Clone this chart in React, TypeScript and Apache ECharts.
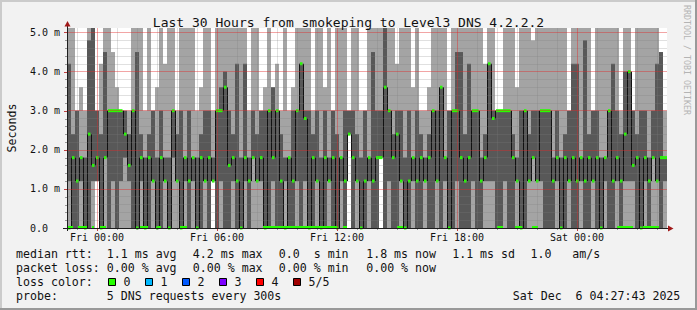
import { useEffect, useRef } from "react";
import * as echarts from "echarts";

const FONT = '"DejaVu Sans Mono", "Liberation Mono", monospace';

// x axis: hours since Thu 22:30, 30 hour window, 12 minute columns
const SPAN_HOURS = 30;
const STEP_HOURS = 0.2;
const Y_MAX_MS = 5.115;

const xTickHours = [1.5, 7.5, 13.5, 19.5, 25.5];
const xTickLabels = ["Fri 00:00", "Fri 06:00", "Fri 12:00", "Fri 18:00", "Sat 00:00"];
const yTickValues = [0, 1, 2, 3, 4, 5];
const yTickLabels = ["0.0", "1.0 m", "2.0 m", "3.0 m", "4.0 m", "5.0 m"];

// sorted pings per column, in ms (5.2 = above the top of the chart)
const minRtt = [
  0, 0, 0, 0, 0, 0, 0, 1.2, 0, 0,
  0, 0, 0, 0, 0, 0, 0, 0, 0, 0,
  0, 0, 0, 0, 0, 0, 0, 0, 0, 0,
  0, 0, 0, 0, 0, 0, 1.2, 0, 0, 0,
  0, 0, 0, 0, 0, 0, 0, 0, 0, 0,
  0, 0, 0, 0, 0, 0, 0, 0, 0, 0,
  0, 0, 0, 0, 0, 0, 0, 0, 0, 0,
  2.4, 0, 0, 0, 0, 0, 0, 0, 1.8, 0,
  0, 0, 0, 0, 0, 0, 0, 0, 0, 0,
  0, 0, 0, 0, 0, 0, 0, 0, 0, 0,
  0, 0, 0, 0, 0, 0, 0, 0, 0, 0,
  0, 0, 0, 0, 0, 0, 0, 0, 0, 0,
  0, 0, 0, 0, 0, 0, 0, 0, 0, 0,
  0, 0, 0, 0, 0, 0, 0, 0, 0, 0,
  0, 0, 0, 0, 0, 0, 0, 0, 0, 0,
];
const lowRtt = [
  1.2, 0, 0, 1.2, 0, 0, 1.2, 1.2, 0, 1.8,
  0, 1.2, 0, 1.2, 1.8, 1.2, 0, 0, 1.2, 0,
  0, 1.2, 0, 0, 1.2, 0, 1.8, 1.2, 0, 1.2,
  0, 1.2, 0, 0, 1.2, 0, 1.2, 0, 1.2, 0,
  0, 1.2, 0, 0, 1.2, 0, 1.8, 1.2, 1.2, 0,
  0, 1.2, 0, 0, 1.2, 0, 0, 1.2, 0, 1.2,
  0, 0, 1.2, 0, 0, 1.2, 0, 0, 1.2, 0,
  2.4, 0, 1.2, 0, 0, 1.2, 0, 0, 1.8, 0,
  1.2, 0, 0, 1.2, 0, 0, 1.2, 0, 0, 1.2,
  0, 0, 1.2, 0, 1.2, 0, 0, 1.2, 0, 0,
  0, 1.2, 0, 0, 1.2, 1.2, 1.2, 0, 0, 1.2,
  0, 0, 1.2, 0, 0, 1.2, 1.8, 1.2, 1.2, 0,
  0, 0, 1.2, 0, 0, 1.2, 0, 0, 1.2, 0,
  0, 1.2, 0, 0, 1.2, 0, 0, 1.2, 0, 1.2,
  1.2, 1.2, 0, 0, 1.2, 0, 1.8, 1.2, 0, 1.2,
];
const medianRtt = [
  0, 1.8, 1.2, 1.8, 0, 2.4, 1.6, 1.8, 0, 1.8,
  3.0, 3.0, 3.0, 3.0, 2.4, 1.6, 3.0, 0, 1.8, 0,
  1.8, 1.2, 0, 1.8, 1.2, 0, 3.0, 1.2, 0, 1.8,
  1.2, 1.8, 0, 1.8, 1.2, 1.8, 1.2, 3.0, 3.0, 3.6,
  1.6, 1.8, 1.2, 0, 1.8, 1.2, 1.8, 1.2, 1.8, 0,
  3.0, 1.8, 3.0, 1.2, 0, 1.8, 1.2, 3.0, 4.2, 2.8,
  0, 1.8, 1.2, 0, 1.8, 1.2, 1.8, 0, 1.8, 1.2,
  2.4, 1.8, 1.2, 0, 1.2, 1.8, 1.2, 1.8, 1.8, 3.6,
  3.0, 1.8, 2.4, 1.2, 0, 1.2, 1.8, 1.2, 1.8, 1.2,
  1.8, 3.0, 1.2, 3.6, 1.8, 0, 3.0, 3.0, 1.8, 1.2,
  1.8, 3.0, 3.0, 1.2, 1.8, 4.2, 2.8, 3.0, 3.0, 3.0,
  3.0, 1.8, 1.2, 0, 3.0, 1.2, 1.8, 1.2, 3.0, 3.0,
  3.0, 1.2, 1.8, 0, 1.8, 1.2, 1.8, 1.2, 1.8, 1.2,
  1.8, 1.2, 1.8, 0, 1.8, 3.0, 1.2, 1.8, 1.2, 2.4,
  4.0, 1.6, 1.8, 0, 1.8, 1.2, 1.8, 1.2, 1.8, 1.8,
];
const highRtt = [
  4.2, 2.4, 3.0, 1.8, 1.8, 4.8, 5.2, 3.0, 2.4, 4.5,
  3.0, 3.0, 3.0, 3.0, 3.0, 2.4, 3.0, 4.5, 2.4, 1.8,
  2.4, 3.0, 1.8, 3.0, 1.8, 1.8, 3.0, 2.4, 3.0, 1.8,
  3.0, 1.8, 1.8, 2.4, 3.0, 3.0, 1.8, 3.0, 3.6, 4.0,
  3.0, 2.4, 4.2, 1.8, 4.2, 1.8, 3.0, 2.4, 3.0, 3.0,
  3.0, 3.6, 3.0, 2.4, 1.8, 1.8, 3.0, 3.0, 4.2, 3.0,
  3.0, 2.4, 3.0, 1.8, 3.0, 1.8, 3.0, 2.4, 1.8, 3.0,
  3.0, 3.0, 2.4, 1.8, 3.0, 1.8, 4.5, 3.0, 3.0, 5.2,
  3.0, 2.4, 3.0, 3.0, 1.8, 3.0, 1.8, 3.0, 2.4, 1.8,
  2.4, 3.0, 3.0, 3.6, 1.8, 3.0, 3.0, 4.5, 4.5, 2.4,
  4.2, 3.0, 3.0, 1.8, 2.4, 4.2, 3.0, 3.0, 3.0, 3.0,
  3.0, 2.4, 1.8, 3.0, 3.0, 2.4, 3.0, 3.0, 3.0, 3.0,
  3.0, 1.8, 3.0, 1.8, 2.4, 3.0, 4.2, 4.2, 1.8, 4.8,
  2.4, 3.0, 3.0, 1.8, 1.8, 3.0, 4.2, 3.0, 2.4, 4.0,
  4.0, 3.0, 2.4, 3.0, 3.0, 1.8, 3.0, 4.2, 4.5, 1.8,
];
const maxRtt = [
  5.2, 5.2, 3.0, 3.6, 3.0, 5.2, 5.2, 3.0, 4.2, 5.2,
  5.2, 4.5, 3.6, 3.0, 3.0, 3.0, 5.2, 5.2, 5.2, 3.0,
  5.2, 3.0, 3.6, 5.2, 4.2, 5.2, 5.2, 3.0, 5.2, 5.2,
  5.2, 5.2, 3.0, 3.6, 5.2, 5.2, 3.0, 5.2, 5.2, 5.2,
  5.2, 5.2, 5.2, 5.2, 5.2, 3.0, 5.2, 5.2, 3.0, 3.6,
  5.2, 3.6, 4.2, 3.0, 5.2, 3.0, 3.6, 5.2, 5.2, 5.2,
  5.2, 3.0, 5.2, 5.2, 3.6, 5.2, 3.0, 5.2, 5.2, 5.2,
  3.0, 5.2, 5.2, 3.0, 3.0, 5.2, 5.2, 5.2, 5.2, 5.2,
  5.2, 5.2, 4.2, 5.2, 5.2, 5.2, 3.6, 5.2, 3.0, 3.0,
  3.6, 5.2, 5.2, 5.2, 5.2, 3.0, 5.2, 5.2, 5.2, 5.2,
  5.2, 5.2, 5.2, 5.2, 4.2, 5.2, 5.2, 3.0, 3.0, 5.2,
  5.2, 5.2, 3.6, 5.2, 5.2, 5.2, 4.8, 5.2, 5.2, 5.2,
  5.2, 5.2, 5.2, 5.2, 5.2, 3.0, 5.2, 5.2, 5.2, 5.2,
  5.2, 3.0, 5.2, 5.2, 5.2, 5.2, 5.2, 5.2, 3.0, 5.2,
  5.2, 3.0, 5.2, 5.2, 5.2, 5.2, 5.2, 5.2, 4.5, 3.0,
];
// stretches (hours) where the median keeps falling back to 0 ms
const zeroMedianSpans = [
  [0.0, 0.3], [0.55, 1.0], [1.25, 1.35], [1.65, 1.95], [3.65, 4.05], [4.5, 4.7],
  [5.65, 6.0], [9.8, 13.5], [13.8, 14.0], [16.5, 16.8], [21.5, 21.8], [22.4, 22.75],
  [23.25, 23.55], [27.5, 28.3], [28.8, 29.6],
];

const lossLabels = ["0", "1", "2", "3", "4", "5/5"];
const lossColors = ["#26ff00", "#00b8ff", "#0059ff", "#7e00ff", "#ff0000", "#a00000"];

const LIGHT = "#a4a4a4";
const DARK = "#585858";
const GREEN = "#26ff00";
// dotted grid lines, rendered as their average tint
const MINOR_GRID = "rgba(125,125,125,0.24)";
const MAJOR_GRID = "rgba(225,40,40,0.42)";

function txt(text: string, x: number, y: number, extra: any = {}) {
  return {
    type: "text",
    x,
    y,
    z: 60,
    style: {
      text,
      fill: "#111",
      font: `11.6px ${FONT}`,
      align: "left",
      verticalAlign: "middle",
      textAlign: "left",
      textVerticalAlign: "middle",
      ...extra,
    },
  };
}

export default function App() {
  const ref = useRef<HTMLDivElement>(null);
  useEffect(() => {
    const chart = echarts.init(ref.current!, null, { renderer: "svg" });

    const xMinorHours: number[] = [];
    for (let h = 0.5; h < SPAN_HOURS; h += 1) {
      if (!xTickHours.some((t) => Math.abs(t - h) < 1e-6)) xMinorHours.push(h);
    }
    const yMajorValues = yTickValues.filter((v) => v > 0);
    const yMinorValues: number[] = [];
    for (let k = 1; k <= 25; k++) if (k % 5 !== 0) yMinorValues.push(k / 5);

    const smokeData = minRtt.map((_, i) => [
      i * STEP_HOURS,
      (i + 1) * STEP_HOURS,
      minRtt[i],
      lowRtt[i],
      medianRtt[i],
      highRtt[i],
      maxRtt[i],
    ]);
    const medianData = medianRtt.map((m, i) => [
      i * STEP_HOURS,
      (i + 1) * STEP_HOURS,
      m,
      i > 0 ? medianRtt[i - 1] : m,
      i < medianRtt.length - 1 ? medianRtt[i + 1] : m,
    ]);

    const clampY = (api: any, t: number, v: number) => api.coord([t, Math.min(v, Y_MAX_MS)])[1];

    const smokeRender = (_p: any, api: any) => {
      const t0 = api.value(0);
      const t1 = api.value(1);
      const x0 = api.coord([t0, 0])[0];
      const x1 = api.coord([t1, 0])[0];
      const yMin = clampY(api, t0, api.value(2));
      const yLow = clampY(api, t0, api.value(3));
      const yHigh = clampY(api, t0, api.value(5));
      const yMax = clampY(api, t0, api.value(6));
      return {
        type: "group",
        children: [
          { type: "rect", shape: { x: x0, y: yMax, width: x1 - x0, height: yMin - yMax }, style: { fill: LIGHT } },
          { type: "rect", shape: { x: x0, y: yHigh, width: x1 - x0, height: yLow - yHigh }, style: { fill: DARK } },
        ],
      };
    };

    const medianRender = (_p: any, api: any) => {
      const t0 = api.value(0);
      const t1 = api.value(1);
      const x0 = api.coord([t0, 0])[0];
      const x1 = api.coord([t1, 0])[0];
      const m = api.value(2);
      const pm = api.value(3);
      const nm = api.value(4);
      const ym = clampY(api, t0, m);
      const yp = clampY(api, t0, pm);
      const children: any[] = [];
      if (m !== pm) {
        children.push({
          type: "line",
          shape: { x1: x0 + 0.5, y1: yp, x2: x0 + 0.5, y2: ym },
          style: { stroke: "#111111", lineWidth: 1 },
        });
      }
      const gx0 = m === pm ? x0 : x0 + 1;
      const gx1 = m === nm ? x1 : x1 - 0.5;
      children.push({
        type: "rect",
        shape: { x: gx0, y: ym - 1.5, width: gx1 - gx0, height: 3 },
        style: { fill: GREEN },
      });
      return { type: "group", children };
    };

    const zeroRender = (_p: any, api: any) => {
      const a = api.coord([api.value(0), 0]);
      const b = api.coord([api.value(1), 0]);
      return {
        type: "rect",
        shape: { x: a[0], y: a[1] - 2, width: b[0] - a[0], height: 2 },
        style: { fill: GREEN },
      };
    };

    // small tick marks outside the plot area, placed through the axes' scales
    const tickRender = (params: any, api: any) => {
      const cs = params.coordSys;
      const left = cs.x;
      const bottom = cs.y + cs.height;
      const children: any[] = [];
      const yTick = (v: number, len: number, color: string) => {
        const y = Math.round(api.coord([0, v])[1]) + 0.5;
        children.push({ type: "line", shape: { x1: left - len, y1: y, x2: left, y2: y }, style: { stroke: color, lineWidth: 1 } });
      };
      const xTick = (h: number, len: number, color: string) => {
        const x = Math.round(api.coord([h, 0])[0]) + 0.5;
        children.push({ type: "line", shape: { x1: x, y1: bottom, x2: x, y2: bottom + len }, style: { stroke: color, lineWidth: 1 } });
      };
      yMinorValues.forEach((v) => yTick(v, 2, "#999999"));
      yMajorValues.forEach((v) => yTick(v, 3, "#c04040"));
      xMinorHours.forEach((h) => xTick(h, 2, "#999999"));
      xTickHours.forEach((h) => xTick(h, 3, "#c04040"));
      return { type: "group", children };
    };

    const labelFor = (vals: number[], labels: string[]) => (v: number) => {
      const i = vals.findIndex((t) => Math.abs(t - v) < 1e-6);
      return i >= 0 ? labels[i] : "";
    };

    const legendTexts: any[] = [
      txt("median rtt:", 16, 254),
      txt("1.1 ms avg", 106.8, 254),
      txt("4.2 ms max", 192.8, 254),
      txt("0.0  s min", 278.8, 254),
      txt("1.8 ms now", 366.2, 254),
      txt("1.1 ms sd", 452.2, 254),
      txt("1.0", 530.5, 254),
      txt("am/s", 572.2, 254),
      txt("packet loss:", 16, 268),
      txt("0.00 % avg", 106.8, 268),
      txt("0.00 % max", 192.8, 268),
      txt("0.00 % min", 278.8, 268),
      txt("0.00 % now", 366.2, 268),
      txt("loss color:", 16, 282.3),
      txt("probe:", 16, 296.3),
      txt("5 DNS requests every 300s", 106.8, 296.3),
      txt("Sat Dec  6 04:27:43 2025", 512.8, 296.3),
    ];
    const swatchX = [108.5, 145.5, 182.5, 219.5, 256.5, 293.5];
    lossLabels.forEach((lab, i) => {
      legendTexts.push({
        type: "rect",
        z: 60,
        shape: { x: swatchX[i], y: 278.5, width: 7, height: 7 },
        style: { fill: lossColors[i], stroke: "#000", lineWidth: 1 },
      });
      legendTexts.push(txt(lab, swatchX[i] + 15, 282.3));
    });

    const hidden = { show: false };
    const option: any = {
      animation: false,
      backgroundColor: "#f2f2f2",
      title: {
        text: "Last 30 Hours from smokeping to Level3 DNS 4.2.2.2",
        left: "center",
        top: 11,
        textStyle: { fontFamily: FONT, fontSize: 13, fontWeight: "normal", color: "#111" },
      },
      grid: {
        left: 67,
        top: 28,
        width: 600,
        height: 200,
        show: true,
        backgroundColor: "#ffffff",
        borderWidth: 0,
        containLabel: false,
        outerBoundsMode: "none",
      },
      xAxis: [
        {
          type: "value",
          min: 0,
          max: SPAN_HOURS,
          z: 6,
          axisLine: hidden,
          axisTick: { show: false, customValues: xTickHours },
          splitLine: { show: true, lineStyle: { color: MAJOR_GRID, width: 1, type: "solid" } },
          axisLabel: {
            customValues: xTickHours,
            formatter: labelFor(xTickHours, xTickLabels),
            fontFamily: FONT,
            fontSize: 10,
            color: "#111",
            margin: 4,
          },
        },
        {
          type: "value",
          min: 0,
          max: SPAN_HOURS,
          position: "bottom",
          z: 5,
          axisLine: hidden,
          axisTick: { show: false, customValues: xMinorHours },
          splitLine: { show: true, lineStyle: { color: MINOR_GRID, width: 1, type: "solid" } },
          axisLabel: hidden,
        },
      ],
      yAxis: [
        {
          type: "value",
          min: 0,
          max: Y_MAX_MS,
          z: 6,
          position: "left",
          name: "Seconds",
          nameLocation: "middle",
          nameGap: 49,
          nameRotate: 90,
          nameTextStyle: { fontFamily: FONT, fontSize: 11.6, color: "#111" },
          axisLine: hidden,
          axisTick: { show: false, customValues: yMajorValues },
          splitLine: { show: true, lineStyle: { color: MAJOR_GRID, width: 1, type: "solid" } },
          axisLabel: {
            customValues: yTickValues,
            formatter: labelFor(yTickValues, yTickLabels),
            align: "left",
            margin: 37,
            fontFamily: FONT,
            fontSize: 10,
            color: "#111",
          },
        },
        {
          type: "value",
          min: 0,
          max: Y_MAX_MS,
          z: 5,
          position: "left",
          offset: 0,
          axisLine: hidden,
          axisTick: { show: false, customValues: yMinorValues },
          splitLine: { show: true, lineStyle: { color: MINOR_GRID, width: 1, type: "solid" } },
          axisLabel: hidden,
        },
      ],
      series: [
        { type: "custom", name: "smoke", data: smokeData, renderItem: smokeRender, z: 2, silent: true },
        { type: "custom", name: "median", data: medianData, renderItem: medianRender, z: 3, silent: true },
        { type: "custom", name: "median0", data: zeroMedianSpans, renderItem: zeroRender, z: 3, silent: true },
        { type: "custom", name: "ticks", data: [[0, 0]], renderItem: tickRender, z: 4, silent: true },
      ],
      graphic: [
        { type: "rect", z: 70, shape: { x: 0, y: 0, width: 697, height: 2 }, style: { fill: "#cbcbcb" } },
        { type: "rect", z: 70, shape: { x: 0, y: 0, width: 2, height: 310 }, style: { fill: "#cbcbcb" } },
        { type: "rect", z: 70, shape: { x: 0, y: 308, width: 697, height: 2 }, style: { fill: "#999999" } },
        { type: "rect", z: 70, shape: { x: 695, y: 0, width: 2, height: 310 }, style: { fill: "#999999" } },
        { type: "line", z: 60, shape: { x1: 63, y1: 228.5, x2: 669, y2: 228.5 }, style: { stroke: "#1e1e1e", lineWidth: 1 } },
        { type: "line", z: 60, shape: { x1: 67.5, y1: 231, x2: 67.5, y2: 25 }, style: { stroke: "#1e1e1e", lineWidth: 1 } },
        { type: "polygon", z: 61, shape: { points: [[64.5, 26.5], [70.5, 26.5], [67.5, 21]] }, style: { fill: "#a01818" } },
        { type: "polygon", z: 61, shape: { points: [[668, 225.5], [668, 231.5], [673.5, 228.5]] }, style: { fill: "#a01818" } },
        {
          type: "text",
          z: 60,
          x: 687,
          y: 60,
          rotation: -Math.PI / 2,
          style: {
            text: "RRDTOOL / TOBI OETIKER",
            fill: "#b4b4b4",
            font: `8.3px ${FONT}`,
            align: "center",
            verticalAlign: "middle",
            textAlign: "center",
            textVerticalAlign: "middle",
          },
        },
        ...legendTexts,
      ],
    };
    chart.setOption(option);
    return () => chart.dispose();
  }, []);
  return <div ref={ref} style={{ position: "fixed", left: 0, top: 0, width: 697, height: 310 }} />;
}
